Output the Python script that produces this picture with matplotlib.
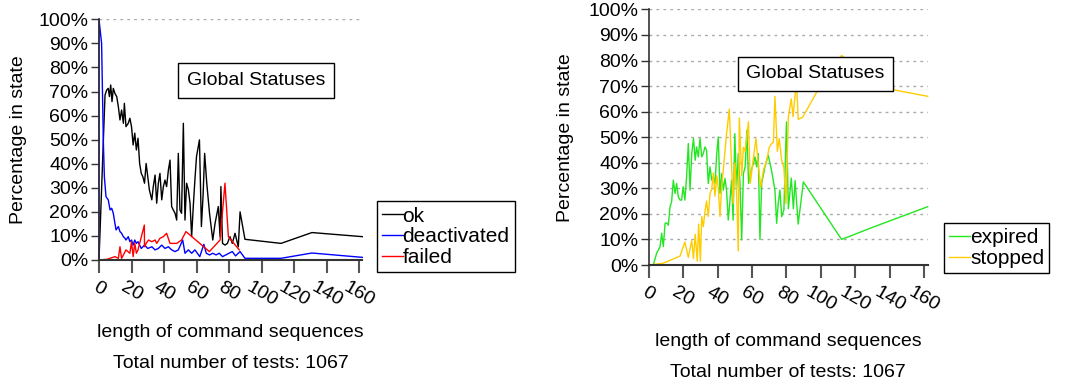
import matplotlib
matplotlib.use('Agg')
import matplotlib.pyplot as plt

plt.rcParams['font.family'] = ['Liberation Sans', 'DejaVu Sans']

# left chart: ok / deactivated / failed (percent vs sequence length)
ok_x = [0, 3.7, 4.7, 5.7, 6.4, 7.2, 8, 8.8, 9.8, 10.9, 11.9, 12.9, 13.9, 15, 15.6, 16.6,
        18, 19, 20, 21, 22, 23, 24, 25, 26, 27, 28, 29, 30, 31, 32.5, 33.4, 34.5, 35.5,
        36.5, 37.5, 38.6, 39.6, 40.6, 41.6, 42.7, 43.7, 44.7, 45.7, 46.8, 47.8, 48.8,
        49.8, 50.8, 51.9, 52.9, 53.9, 55, 56, 57, 58, 59, 60, 61.8, 63, 64, 65, 66.3,
        68, 70, 71.4, 73.4, 74.5, 75, 76, 77.5, 79, 80.6, 82, 83.7, 85.7, 86.8, 89.8,
        112, 131, 162]
ok_y = [0, 68.5, 70.6, 71.3, 67.9, 72.7, 65.8, 71.3, 69.2, 67.9, 63.7, 58.2, 62.3, 56.8,
        65.1, 55.4, 56.8, 58.9, 55.4, 47.8, 52.7, 45.7, 50.6, 40.1, 36.0, 34.6, 31.9, 40.1,
        34.6, 29.1, 25.0, 30.5, 35.3, 23.6, 31.9, 36.0, 25.0, 30.5, 33.2, 30.5, 37.4, 41.5,
        22.2, 20.8, 19.4, 16.6, 44.3, 20.8, 19.4, 56.8, 16.6, 31.9, 29.1, 23.6, 9.7, 22.2,
        33.2, 43.0, 49.9, 13.9, 26.3, 44.3, 31.9, 19.4, 8.3, 15.2, 22.2, 9.7, 30.5, 6.9,
        6.2, 6.9, 9.7, 6.9, 11.1, 5.5, 20.0, 8.6, 6.9, 11.4, 9.7]

deact_x = [0, 0, 1.6, 2.7, 3.3, 4.3, 5.7, 6.8, 7.8, 8.8, 9.8, 10.5, 11.9, 12.9, 13.9, 15,
           16, 16.6, 18, 19, 20, 21, 22, 23, 24, 25, 26, 28, 30, 32.5, 34.5, 36.5, 38.6,
           40.6, 42.7, 44.7, 46.8, 48.8, 51.5, 52.9, 55, 57, 59, 62, 64.5, 66, 68, 70, 72,
           74, 76, 78, 80, 82, 84, 86.8, 89.8, 112, 131, 162]
deact_y = [0, 100, 90, 48.5, 34.6, 26.3, 25.0, 20.8, 21.5, 19.4, 15.2, 12.5, 13.9, 11.8,
           11.1, 9.7, 9.0, 8.3, 9.7, 7.6, 8.3, 6.2, 8.3, 6.9, 7.6, 6.2, 4.8, 6.2, 4.8, 5.5,
           4.2, 4.8, 6.2, 4.8, 5.5, 4.2, 3.5, 4.2, 8.3, 2.8, 4.2, 2.8, 4.2, 1.4, 6.5, 2.8,
           2.1, 2.8, 2.1, 2.8, 1.4, 2.1, 2.8, 3.5, 1.7, 3.5, 0.7, 0.7, 2.9, 1.1]

failed_x = [0, 5, 9.8, 11.9, 12.9, 13.9, 15, 16.6, 19, 20, 21, 22, 23, 24, 25, 27.9, 28,
            29, 30.5, 32.5, 34.5, 35.5, 37.5, 39.6, 41.6, 43.7, 47.8, 50.8, 53.5, 67.9,
            74.5, 77.5, 79.6, 86.3]
failed_y = [0, 0.3, 1.4, 0.7, 5.5, 0.7, 2.1, 4.2, 2.8, 7.6, 1.4, 6.9, 2.8, 4.2, 6.9, 14.5,
            5.5, 6.9, 8.3, 7.6, 8.3, 6.9, 9.0, 9.7, 11.1, 6.9, 6.9, 8.3, 11.8, 3.5, 8.3,
            31.9, 9.7, 4.2]

# right chart: expired / stopped
exp_x = [0, 2.7, 4.6, 5.6, 6.6, 7.5, 8.5, 9.5, 10.4, 11.4, 12.4, 13.3, 14.3, 15.3, 16.2,
         17.2, 18.2, 19.1, 20, 21, 22, 23, 24, 25, 26, 27, 27.8, 28.8, 29.8, 30.8, 31.7,
         32.7, 33.6, 34.6, 35.6, 36.6, 37.5, 38.5, 39.5, 40.4, 41.4, 42.4, 43.3, 44.3,
         45.2, 46.2, 47.2, 48.1, 49, 50, 51, 52, 53, 54, 55, 56, 57, 58, 59, 60.8, 61.7,
         62.7, 63.6, 64.6, 65.6, 67.5, 69.4, 71.3, 73.3, 74.3, 75.2, 76.2, 77.2, 78.5, 80,
         81.1, 82.8, 84, 85, 86.8, 89.8, 112, 131, 162]
exp_y = [0, 0, 4.6, 5.9, 7.2, 12.4, 7.2, 16.3, 16.5, 15.6, 22.8, 24.7, 33.2, 28, 31.9,
         26.7, 25.4, 25.4, 30.6, 25.4, 34.5, 47.5, 29.3, 43.6, 49.5, 41.0, 46.2, 42.3,
         49.5, 42.3, 43.6, 46.2, 44.9, 31.9, 38.4, 33.2, 34.5, 31.9, 43.6, 50.1, 28.0,
         35.8, 29.3, 33.9, 29.3, 17.6, 25.4, 33.2, 17.6, 51.4, 29.3, 43.6, 31.9, 9.8,
         35.8, 38.4, 52.7, 31.9, 35.8, 39.7, 42.3, 38.4, 43.6, 10.0, 31.9, 38.4, 43.0,
         37.1, 29.3, 16.3, 24.0, 29.3, 18.9, 21.5, 56.0, 22.0, 34.0, 22.0, 33.0, 16.0,
         32.5, 10.0, 15.0, 22.8]

stop_x = [0, 8.5, 18.2, 21, 23, 25, 26, 27, 28.2, 29, 30, 30.8, 31.7, 32.7, 33.6, 34.6,
          35.6, 36.6, 37.5, 38.5, 39.5, 40.4, 41.4, 42.4, 43.3, 45, 46.8, 48, 49, 50, 51,
          52, 52.6, 54, 55, 56, 57.9, 59, 60.8, 62.3, 63.6, 65, 66.6, 68.5, 70, 71.3, 72.4,
          73.3, 74.7, 75.8, 77.2, 78.5, 79.7, 81.1, 82.8, 83.8, 85.8, 86.8, 89.4, 99.5,
          112, 131, 162]
stop_y = [0, 0.7, 3.5, 9.0, 3.0, 9.5, 2.5, 12.0, 1.5, 16.0, 1.5, 19.0, 15.0, 21.0, 25.0,
          19.0, 28.0, 29.5, 36.0, 27.0, 35.0, 30.0, 19.0, 31.0, 37.0, 50.0, 61.0, 41.0,
          24.0, 40.0, 29.5, 5.5, 57.5, 35.0, 46.0, 44.5, 56.0, 32.0, 42.0, 49.5, 39.5,
          30.5, 37.0, 41.0, 46.0, 47.5, 48.0, 66.0, 44.5, 49.5, 41.0, 38.0, 24.0, 58.0,
          65.0, 58.0, 72.0, 57.0, 57.8, 70.0, 82.0, 70.0, 66.0]

x_ticks = list(range(0, 161, 20))
y_ticks = list(range(0, 101, 10))
y_labels = [f'{v}%' for v in y_ticks]

W, H = 1067, 389
fig = plt.figure(figsize=(W / 100, H / 100), dpi=100)
ax1 = fig.add_axes([99 / W, 1 - 260 / H, 263.3 / W, 240.7 / H])
ax2 = fig.add_axes([648.7 / W, 1 - 265 / H, 279 / W, 255.6 / H])


def style(ax, label_x, lab1_y, lab2_y):
    ax.set_xlim(0, 162)
    ax.set_ylim(0, 100)
    ax.set_xticks(x_ticks)
    ax.set_yticks(y_ticks)
    ax.set_yticklabels(y_labels)
    ax.spines['top'].set_visible(False)
    ax.spines['right'].set_visible(False)
    ax.spines['left'].set_color('#333333')
    ax.spines['bottom'].set_color('#333333')
    ax.spines['left'].set_linewidth(1.2)
    ax.spines['bottom'].set_linewidth(1.5)
    ax.tick_params(axis='x', length=9.5, width=1.5, color='#555555', labelsize=14,
                   labelrotation=-30, pad=4)
    ax.tick_params(axis='y', length=5.5, width=1, color='#333333', labelsize=14, pad=2)
    for lab in ax.get_xticklabels():
        lab.set_ha('center')
    ax.set_ylabel('Percentage in state', fontsize=14)
    ax.yaxis.set_label_coords(label_x, 0.5)
    ax.text(0.5, lab1_y, 'length of command sequences', transform=ax.transAxes,
            ha='center', va='center', fontsize=14)
    ax.text(0.5, lab2_y, 'Total number of tests: 1067', transform=ax.transAxes,
            ha='center', va='center', fontsize=14)


style(ax1, -0.274, -0.303, -0.428)
style(ax2, -0.268, -0.301, -0.4225)

# left
ax1.axhline(100, color='#aaaaaa', lw=1, ls=(0, (2, 3)), zorder=0)
ax1.plot(ok_x, ok_y, color='black', lw=1, label='ok', clip_on=False)
ax1.plot(deact_x, deact_y, color='#0000ff', lw=1, label='deactivated', clip_on=False)
ax1.plot(failed_x, failed_y, color='#ff0000', lw=1, label='failed', clip_on=False)

# right
ax2.yaxis.grid(True, color='#aaaaaa', lw=1, ls=(0, (2, 3)))
ax2.set_axisbelow(True)
ax2.plot(exp_x, exp_y, color='#22e622', lw=1, label='expired', clip_on=False)
ax2.plot(stop_x, stop_y, color='#ffcc00', lw=1, label='stopped', clip_on=False)

box = dict(boxstyle='square,pad=0.45', fc='white', ec='black', lw=1)
ax1.text(256 / W, 1 - 80.5 / H, 'Global Statuses', transform=fig.transFigure,
         ha='center', va='center', fontsize=14, bbox=box, zorder=5)
ax2.text(815.5 / W, 1 - 74 / H, 'Global Statuses', transform=fig.transFigure,
         ha='center', va='center', fontsize=14, bbox=box, zorder=5)

for ax, (lx, ly) in [(ax1, (376.5, 201.5)), (ax2, (944, 223))]:
    leg = ax.legend(loc='upper left', bbox_to_anchor=(lx / W, 1 - ly / H),
                    bbox_transform=fig.transFigure, frameon=True, fancybox=False,
                    edgecolor='black', framealpha=1, borderaxespad=0, handlelength=1.0,
                    handletextpad=0, labelspacing=0.08, borderpad=0.25, fontsize=15)
    leg.get_frame().set_linewidth(1)

fig.savefig('out.png', dpi=100)
